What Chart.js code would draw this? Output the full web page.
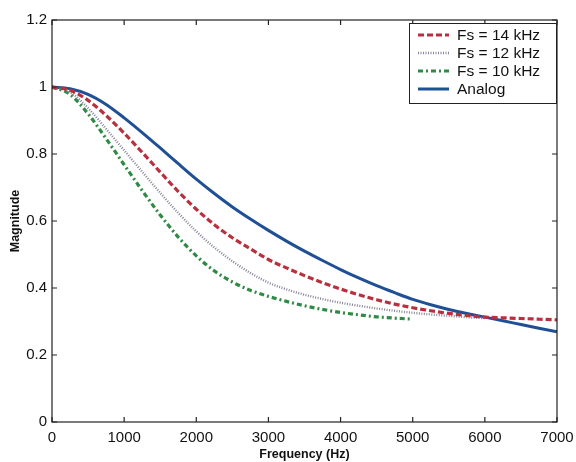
<!DOCTYPE html>
<html>
<head>
<meta charset="utf-8">
<script src="https://cdn.jsdelivr.net/npm/chart.js@4.4.1/dist/chart.umd.min.js"></script>
<style>
html,body{margin:0;padding:0;background:#fff;}
#wrap{width:576px;height:462px;position:relative;}
</style>
</head>
<body>
<div id="wrap"><canvas id="c" width="576" height="462"></canvas></div>
<script>
// Frequencies (Hz)
const freq = [0,250,500,750,1000,1250,1500,1750,2000,2250,2500,2750,3000,3250,3500,3750,4000,4250,4500,4750,5000,5250,5500,5750,6000,6250,6500,6750,7000];
// Magnitudes
const fs14 = [1,0.99,0.96,0.915,0.862,0.805,0.746,0.688,0.635,0.589,0.55,0.517,0.485,0.46,0.437,0.416,0.397,0.38,0.365,0.352,0.341,0.332,0.324,0.318,0.313,0.311,0.309,0.307,0.305];
const fs12 = [1,0.985,0.937,0.875,0.811,0.747,0.684,0.624,0.569,0.521,0.48,0.445,0.416,0.396,0.38,0.367,0.356,0.347,0.339,0.332,0.326,0.321,0.317,0.313,0.31];
const fs10 = [1,0.978,0.92,0.846,0.768,0.691,0.618,0.552,0.496,0.451,0.418,0.393,0.375,0.36,0.347,0.336,0.327,0.32,0.314,0.31,0.307];
const analog = [1,0.995,0.978,0.948,0.908,0.864,0.818,0.771,0.725,0.682,0.642,0.606,0.572,0.54,0.51,0.482,0.455,0.43,0.407,0.386,0.366,0.35,0.336,0.324,0.313,0.302,0.291,0.28,0.269];
const seriesNames = ['Fs = 14 kHz','Fs = 12 kHz','Fs = 10 kHz','Analog'];
const xTicks = [0,1000,2000,3000,4000,5000,6000,7000];
const yTicks = [0,0.2,0.4,0.6,0.8,1,1.2];

const pts = arr => arr.map((v,i)=>({x:freq[i], y:v}));

const FONT = '"Liberation Sans", Arial, Helvetica, sans-serif';

const boxTicks = {
  id:'boxTicks',
  afterDraw(chart){
    const {ctx, chartArea:a, scales:{x,y}} = chart;
    ctx.save();
    ctx.strokeStyle = '#222';
    ctx.lineWidth = 1.2;
    ctx.strokeRect(a.left, a.top, a.right-a.left, a.bottom-a.top);
    ctx.beginPath();
    const L = 5;
    xTicks.forEach(v=>{
      const px = x.getPixelForValue(v);
      ctx.moveTo(px, a.bottom); ctx.lineTo(px, a.bottom-L);
      ctx.moveTo(px, a.top); ctx.lineTo(px, a.top+L);
    });
    yTicks.forEach(v=>{
      const py = y.getPixelForValue(v);
      ctx.moveTo(a.left, py); ctx.lineTo(a.left+L, py);
      ctx.moveTo(a.right, py); ctx.lineTo(a.right-L, py);
    });
    ctx.stroke();

    // legend box
    const lx = 409, ly = 23, lw = 147, lh = 80;
    ctx.fillStyle = '#fff';
    ctx.fillRect(lx, ly, lw, lh);
    ctx.strokeStyle = '#222';
    ctx.lineWidth = 1;
    ctx.strokeRect(lx+0.5, ly+0.5, lw, lh);
    const rows = [35, 53, 71, 89];
    chart.data.datasets.forEach((ds,i)=>{
      const ry = rows[i];
      ctx.beginPath();
      ctx.setLineDash(ds.borderDash || []);
      ctx.strokeStyle = ds.borderColor;
      ctx.lineWidth = ds.borderWidth;
      ctx.moveTo(418, ry); ctx.lineTo(449, ry);
      ctx.stroke();
      ctx.setLineDash([]);
      ctx.fillStyle = '#111';
      ctx.font = '15.5px ' + FONT;
      ctx.textBaseline = 'middle';
      ctx.textAlign = 'left';
      ctx.fillText(ds.label, 457, ry+1);
    });
    ctx.restore();
  }
};

new Chart(document.getElementById('c'), {
  type:'line',
  data:{
    datasets:[
      {label:seriesNames[0], data:pts(fs14), borderColor:'#b8303d', borderWidth:3.2, borderDash:[6,3]},
      {label:seriesNames[1], data:pts(fs12), borderColor:'#84849a', borderWidth:2.4, borderDash:[1,1.5]},
      {label:seriesNames[2], data:pts(fs10), borderColor:'#2f8a45', borderWidth:3.2, borderDash:[5,3,2,3]},
      {label:seriesNames[3], data:pts(analog), borderColor:'#1f4f94', borderWidth:3}
    ]
  },
  options:{
    responsive:false,
    animation:false,
    devicePixelRatio:1,
    elements:{point:{radius:0}, line:{tension:0.4, cubicInterpolationMode:'monotone', fill:false}},
    layout:{padding:{top:20, right:0, left:0, bottom:0}},
    plugins:{legend:{display:false}, tooltip:{enabled:false}},
    scales:{
      x:{
        type:'linear', min:0, max:7000,
        afterBuildTicks(s){ s.ticks = xTicks.map(v=>({value:v})); },
        afterFit(s){ s.height = 40; s.paddingRight = 19; s.paddingLeft = 0; },
        grid:{display:false, drawTicks:false},
        border:{display:false},
        ticks:{padding:7, font:{family:FONT, size:15}, color:'#111', maxRotation:0, autoSkip:false, callback:v=>String(v)},
        title:{display:true, text:'Frequency (Hz)', font:{family:FONT, size:12.5, weight:'bold'}, color:'#111', padding:{top:0,bottom:0}}
      },
      y:{
        type:'linear', min:0, max:1.2,
        afterBuildTicks(s){ s.ticks = yTicks.map(v=>({value:v})); },
        afterFit(s){ s.width = 52; },
        grid:{display:false, drawTicks:false},
        border:{display:false},
        ticks:{padding:5, font:{family:FONT, size:15}, color:'#111', callback:v=>String(+v.toFixed(1))},
        title:{display:true, text:'Magnitude', font:{family:FONT, size:12.5, weight:'bold'}, color:'#111', padding:{top:8,bottom:0}}
      }
    }
  },
  plugins:[boxTicks]
});
</script>
</body>
</html>
